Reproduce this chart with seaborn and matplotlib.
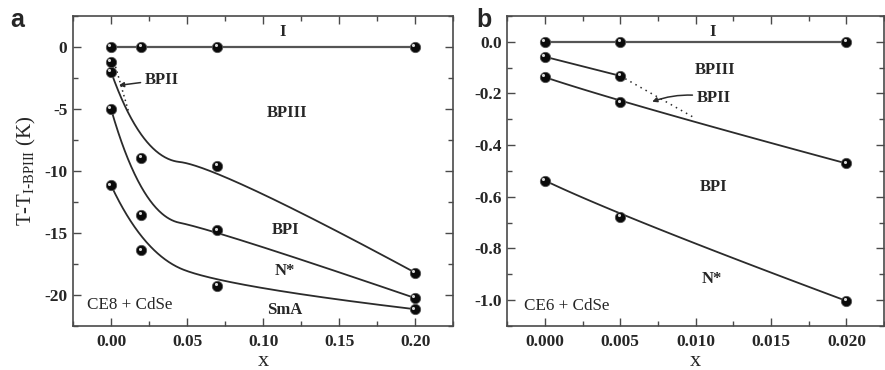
import numpy as np
import pandas as pd
import seaborn as sns
import matplotlib
matplotlib.use("Agg")
import matplotlib.pyplot as plt
from matplotlib.ticker import MultipleLocator, FormatStrFormatter
from matplotlib.transforms import offset_copy

sns.set_theme(style="ticks")
plt.rcParams["font.family"] = ["Liberation Serif", "DejaVu Serif"]

# ---- Panel a: CE8 + CdSe ----
xa = [0.0, 0.02, 0.07, 0.20]
a_iso = [0.0, 0.0, 0.0, 0.0]
a_bp3 = [-2.0, -8.95, -9.6, -18.2]
a_bp1 = [-5.0, -13.55, -14.8, -20.25]
a_nst = [-11.15, -16.4, -19.25, -21.15]
a_bp2_x = [0.0]
a_bp2_y = [-1.2]
a_dot_x = [0.003, 0.0115]
a_dot_y = [-1.6, -5.2]

# ---- Panel b: CE6 + CdSe ----
xb = [0.0, 0.005, 0.02]
b_iso = [0.0, 0.0, 0.0]
b_bp3_x = [0.0, 0.005]
b_bp3 = [-0.058, -0.132]
b_bp1 = [-0.137, -0.235, -0.471]
b_nst = [-0.537, -0.677, -1.003]
b_dot_x = [0.005, 0.010]
b_dot_y = [-0.132, -0.297]

LINE = "#2b2b2b"
SPINE = "#4a4a4a"


def bspline(xs, ys, n=120):
    """Clamped quadratic B-spline using the measured points as control points."""
    P = np.column_stack([xs, ys]).astype(float)
    if len(P) < 3:
        return pd.DataFrame({"x": P[:, 0], "y": P[:, 1]})
    t = np.linspace(0, 1, n)[:, None]
    parts = []
    m = len(P)
    for k in range(1, m - 1):
        start = P[0] if k == 1 else (P[k - 1] + P[k]) / 2
        end = P[-1] if k == m - 2 else (P[k] + P[k + 1]) / 2
        seg = (1 - t) ** 2 * start + 2 * (1 - t) * t * P[k] + t ** 2 * end
        parts.append(seg if k == 1 else seg[1:])
    c = np.vstack(parts)
    return pd.DataFrame({"x": c[:, 0], "y": c[:, 1]})


def line(ax, xs, ys, smooth=True, **kw):
    df = bspline(xs, ys) if smooth else pd.DataFrame({"x": xs, "y": ys})
    sns.lineplot(data=df, x="x", y="y", ax=ax, sort=False, estimator=None,
                 color=kw.pop("color", LINE), lw=kw.pop("lw", 1.3), **kw)


def balls(ax, xs, ys):
    df = pd.DataFrame({"x": xs, "y": ys})
    sns.scatterplot(data=df, x="x", y="y", ax=ax, s=55, color="#0a0a0a",
                    edgecolor="#555555", linewidth=0.6, zorder=5)
    hl = offset_copy(ax.transData, fig=ax.figure, x=-1.2, y=1.2, units="points")
    ax.scatter(xs, ys, s=5, color="#d8d8d8", transform=hl, zorder=6, linewidths=0)


def style(ax, xlim, ylim, xmaj, xmin, ymaj, ymin, xfmt, yfmt):
    ax.set_xlim(*xlim)
    ax.set_ylim(*ylim)
    ax.xaxis.set_major_locator(MultipleLocator(xmaj))
    ax.xaxis.set_minor_locator(MultipleLocator(xmin))
    ax.yaxis.set_major_locator(MultipleLocator(ymaj))
    ax.yaxis.set_minor_locator(MultipleLocator(ymin))
    ax.xaxis.set_major_formatter(FormatStrFormatter(xfmt))
    ax.yaxis.set_major_formatter(FormatStrFormatter(yfmt))
    ax.tick_params(which="both", direction="in", top=True, right=True,
                   labelright=False, labeltop=False, color=SPINE, width=1.0)
    ax.tick_params(which="major", length=6, labelsize=12.5)
    ax.tick_params(axis="y", which="major", pad=4)
    ax.tick_params(axis="x", which="major", pad=6)
    ax.tick_params(which="minor", length=3.5)
    for lab in ax.get_xticklabels() + ax.get_yticklabels():
        lab.set_fontweight("bold")
    for sp in ax.spines.values():
        sp.set_color(SPINE)
        sp.set_linewidth(1.2)
    ax.set_xlabel("x", fontsize=16)
    ax.xaxis.set_label_coords(0.5, -0.085)
    ax.set_ylabel("")


fig = plt.figure(figsize=(8.85, 3.70), dpi=100)
axa = fig.add_axes([0.0825, 0.119, 0.4295, 0.838])
axb = fig.add_axes([0.573, 0.119, 0.426, 0.838])

# panel a
line(axa, xa, a_iso, smooth=False, color="#555555", lw=1.6)
line(axa, xa, a_bp3)
line(axa, xa, a_bp1)
line(axa, xa, a_nst)
line(axa, a_dot_x, a_dot_y, smooth=False, lw=1.1, linestyle=(0, (1, 2.2)))
balls(axa, xa * 4 + a_bp2_x, a_iso + a_bp3 + a_bp1 + a_nst + a_bp2_y)
style(axa, (-0.025, 0.225), (-22.5, 2.5), 0.05, 0.025, 5, 2.5, "%.2f", "%g")
axa.set_ylabel(r"T-T$_{\mathregular{I\text{-}BPIII}}$ (K)", fontsize=15)
axa.yaxis.set_label_coords(-0.092, 0.5)

lab_kw = dict(fontsize=12, fontweight="bold", ha="center", va="center")
axa.text(0.113, 1.2, "I", **lab_kw)
axa.text(0.116, -5.3, "BPIII", **lab_kw)
axa.text(0.115, -14.8, "BPI", **lab_kw)
axa.text(0.1145, -18.1, "N*", **lab_kw)
axa.text(0.114, -21.2, "SmA", **lab_kw)
axa.text(-0.0155, -20.8, "CE8 + CdSe", fontsize=12.3, ha="left", va="center")
axa.annotate("BPII", xy=(0.0052, -3.1), xytext=(0.0225, -2.65),
             fontsize=12, fontweight="bold", ha="left", va="center",
             arrowprops=dict(arrowstyle="-|>", color=LINE, lw=1.1,
                             mutation_scale=7, shrinkA=1, shrinkB=0))

# panel b
line(axb, xb, b_iso, smooth=False, color="#555555", lw=1.6)
line(axb, b_bp3_x, b_bp3, smooth=False)
line(axb, xb, b_bp1)
line(axb, xb, b_nst)
line(axb, b_dot_x, b_dot_y, smooth=False, lw=1.1, linestyle=(0, (1, 2.8)))
balls(axb, xb + b_bp3_x + xb + xb, b_iso + b_bp3 + b_bp1 + b_nst)
style(axb, (-0.0025, 0.0225), (-1.1, 0.1), 0.005, 0.0025, 0.2, 0.1, "%.3f", "%.1f")

axb.text(0.01113, 0.039, "I", **lab_kw)
axb.text(0.01128, -0.11, "BPIII", **lab_kw)
axb.text(0.0112, -0.564, "BPI", **lab_kw)
axb.text(0.01107, -0.918, "N*", **lab_kw)
axb.text(-0.0014, -1.022, "CE6 + CdSe", fontsize=12.3, ha="left", va="center")
axb.annotate("BPII", xy=(0.00712, -0.232), xytext=(0.0101, -0.218),
             fontsize=12, fontweight="bold", ha="left", va="center",
             arrowprops=dict(arrowstyle="-|>", color=LINE, lw=1.1,
                             mutation_scale=7, shrinkA=1, shrinkB=0,
                             connectionstyle="arc3,rad=0.15"))

fig.text(0.012, 0.927, "a", fontsize=18, fontweight="bold", family="Liberation Sans", va="baseline")
fig.text(0.538, 0.927, "b", fontsize=18, fontweight="bold", family="Liberation Sans", va="baseline")

fig.savefig("out.png", dpi=100)
